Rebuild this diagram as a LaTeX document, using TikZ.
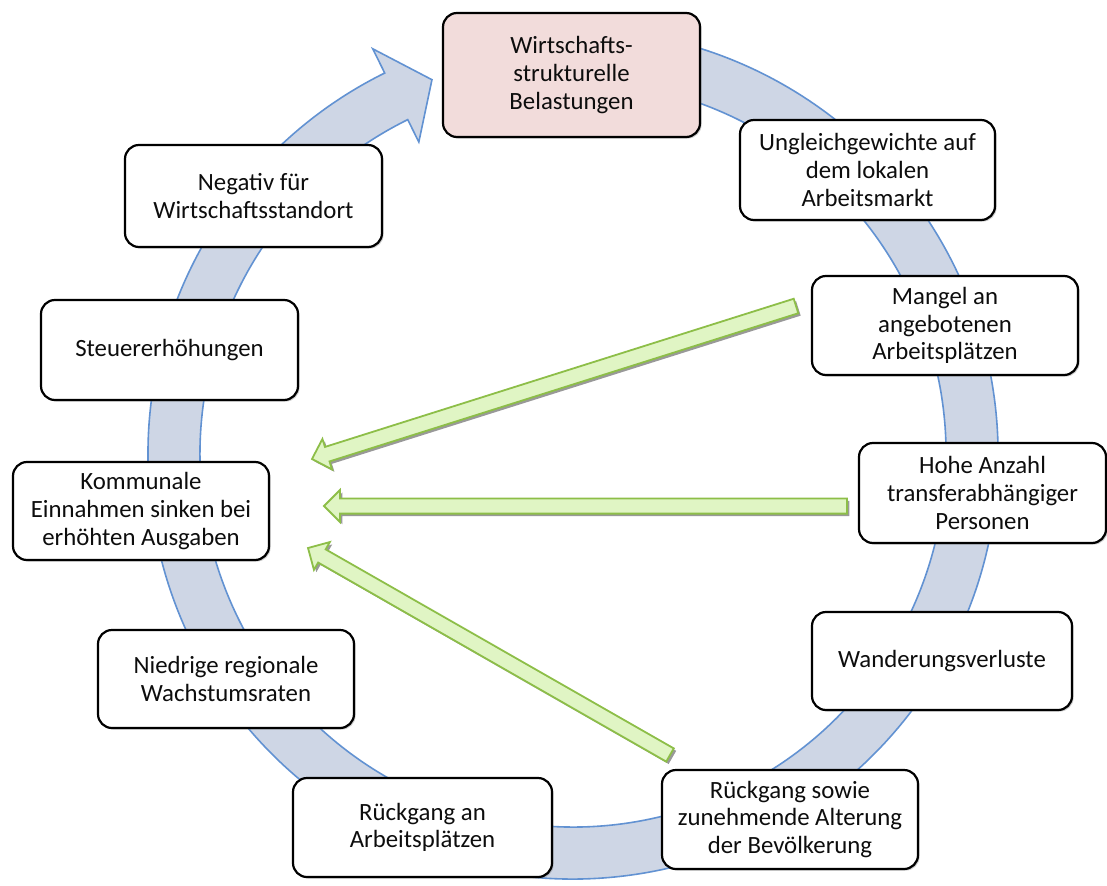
\documentclass[tikz,border=0pt]{standalone}
\usepackage{fontspec}
\setmainfont{Carlito}
\usetikzlibrary{calc,shadows}
\definecolor{bandfill}{RGB}{206,214,229}
\definecolor{bandline}{RGB}{98,146,210}
\definecolor{gfill}{RGB}{224,245,196}
\definecolor{gline}{RGB}{141,190,72}
\definecolor{pinkfill}{RGB}{242,220,219}
\tikzset{
 box/.style={draw=black, line width=1.1pt, rounded corners=7pt, fill=white, align=center,
   inner sep=2pt, font=\fontsize{12.4}{13.8}\selectfont, text=black!95,
   drop shadow={shadow xshift=0.8pt, shadow yshift=-0.8pt, opacity=0.4}},
 band/.style={fill=bandfill, draw=bandline, line width=0.8pt, line join=miter},
 garrow/.style={fill=gfill, draw=gline, line width=0.9pt, line join=miter},
 gshadow/.style={fill=black!40},
}
\newcommand\arrowpts[2]{(#2) -- ($(hb)!8pt!90:(#1)$) -- ($(hb)!3.8pt!90:(#1)$) -- ($(#1)!3.8pt!-90:(hb)$) -- ($(#1)!3.8pt!90:(hb)$) -- ($(hb)!3.8pt!-90:(#1)$) -- ($(hb)!8pt!-90:(#1)$) -- cycle}
\newcommand\greenarrow[2]{%
 \coordinate (hb) at ($(#2)!8pt!(#1)$);
 \path[gshadow, transform canvas={shift={(1.2pt,-1.2pt)}}] \arrowpts{#1}{#2};
 \path[garrow] \arrowpts{#1}{#2};
}
\begin{document}
\begin{tikzpicture}[x=0.5pt,y=0.5pt]
\useasboundingbox (0,0) rectangle (1107,885);
% circular band
\begin{scope}[shift={(573,431)}]
\path[band] (100:212.5pt) arc[start angle=100, end angle=-243.7, radius=212.5pt]
  -- (-243.7:226pt) -- (-249.35:200pt) -- (-243.7:174pt) -- (-243.7:186.5pt)
  arc[start angle=-243.7, end angle=100, radius=186.5pt] -- cycle;
\end{scope}
% boxes
\node[box, fill=pinkfill, minimum width=128.5pt, minimum height=62pt] (wirt) at (571.5,810) {Wirtschafts-\\strukturelle\\Belastungen};
\node[box, minimum width=127.5pt, minimum height=50pt] (ungl) at (867.5,715) {Ungleichgewichte auf\\dem lokalen\\Arbeitsmarkt};
\node[box, minimum width=133pt, minimum height=49.5pt] (mangel) at (945,559.5) {Mangel an\\angebotenen\\Arbeitsplätzen};
\node[box, minimum width=123.5pt, minimum height=50pt] (hohe) at (982.5,392) {Hohe Anzahl\\transferabhängiger\\Personen};
\node[box, minimum width=130pt, minimum height=49pt] (wander) at (942,224) {Wanderungsverluste};
\node[box, minimum width=128pt, minimum height=49.5pt] (bevoelk) at (790,65.5) {Rückgang sowie\\zunehmende Alterung\\der Bevölkerung};
\node[box, minimum width=129.5pt, minimum height=49.5pt] (rueckarb) at (422.5,57.5) {Rückgang an\\Arbeitsplätzen};
\node[box, minimum width=128pt, minimum height=49pt] (niedrig) at (226,206) {Niedrige regionale\\Wachstumsraten};
\node[box, minimum width=128pt, minimum height=49pt] (komm) at (141,374) {Kommunale\\Einnahmen sinken bei\\erhöhten Ausgaben};
\node[box, minimum width=128.5pt, minimum height=50pt] (steuer) at (169.5,535) {Steuererhöhungen};
\node[box, minimum width=128.5pt, minimum height=51pt] (negativ) at (253.5,689) {Negativ für\\Wirtschaftsstandort};
% green arrows
\coordinate (a1t) at (796,579);
\coordinate (a1h) at (312,426);
\coordinate (a2t) at (847,379);
\coordinate (a2h) at (324,379);
\coordinate (a3t) at (670,130);
\coordinate (a3h) at (308,337);
\greenarrow{a1t}{a1h}
\greenarrow{a2t}{a2h}
\greenarrow{a3t}{a3h}
\end{tikzpicture}
\end{document}
